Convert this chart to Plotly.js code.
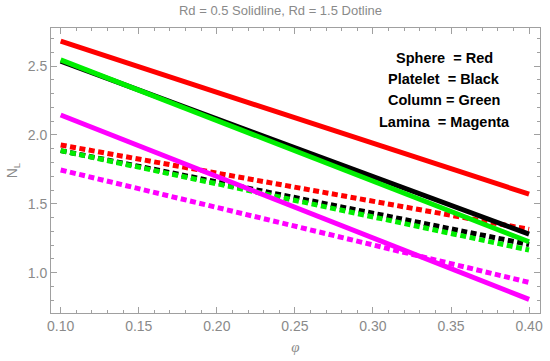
<!DOCTYPE html>
<html><head><meta charset="utf-8">
<script src="https://cdn.plot.ly/plotly-3.0.1.min.js"></script>
<style>body{margin:0;padding:0;background:#fff}#chart{width:550px;height:361px}</style>
</head><body><div id="chart"></div>
<script>
// Data (phi vs N_L)
const phi = [0.10, 0.40];
const sphereSolid   = [2.68, 1.57];
const plateletSolid = [2.535, 1.28];
const columnSolid   = [2.545, 1.225];
const laminaSolid   = [2.145, 0.807];
const sphereDot     = [1.927, 1.315];
const plateletDot   = [1.886, 1.205];
const columnDot     = [1.886, 1.165];
const laminaDot     = [1.746, 0.93];

const legendLines = ["Sphere  = Red", "Platelet  = Black", "Column = Green", "Lamina  = Magenta"];

const dotDash = "6px,3.5px";
function tr(y, color, dotted){
  return {x: phi, y: y, mode: 'lines', type: 'scatter', showlegend: false, hoverinfo: 'skip',
    line: {color: color, width: 5, dash: dotted ? dotDash : 'solid'}};
}
const data = [
  tr(sphereDot, '#ff0000', true),
  tr(plateletDot, '#000000', true),
  tr(columnDot, '#00ee00', true),
  tr(laminaDot, '#ff00ff', true),
  tr(sphereSolid, '#ff0000', false),
  tr(plateletSolid, '#000000', false),
  tr(columnSolid, '#00ee00', false),
  tr(laminaSolid, '#ff00ff', false)
];

const gray = '#8a8a8a';
const axisCommon = {
  showgrid: false, zeroline: false, showline: true, linecolor: '#a0a0a0', linewidth: 1,
  mirror: 'allticks', ticks: 'inside', ticklen: 6, tickcolor: '#a0a0a0', tickwidth: 1,
  tickfont: {family: 'Liberation Sans, Arial, sans-serif', size: 14, color: gray}
};
const annotations = legendLines.map((t, i) => ({
  text: '<b>' + t + '</b>', xref: 'paper', yref: 'paper',
  x: (444 - 51) / 489, y: 1 - ([58, 79, 100, 121.5][i] - 28) / 285,
  xanchor: 'center', yanchor: 'middle', showarrow: false,
  font: {family: 'Liberation Sans, Arial, sans-serif', size: 14.5, color: '#000'}
}));

const layout = {
  width: 550, height: 361,
  margin: {l: 51, r: 10, t: 28, b: 48},
  paper_bgcolor: '#fff', plot_bgcolor: '#fff',
  title: {text: 'Rd = 0.5 Solidline, Rd = 1.5 Dotline', x: 0.51, xanchor: 'center', y: 0.97, yanchor: 'middle',
    font: {family: 'Liberation Sans, Arial, sans-serif', size: 13, color: gray}},
  xaxis: Object.assign({}, axisCommon, {
    range: [0.0938, 0.407], tickvals: [0.10, 0.15, 0.20, 0.25, 0.30, 0.35, 0.40],
    ticktext: ['0.10', '0.15', '0.20', '0.25', '0.30', '0.35', '0.40'],
    minor: {dtick: 0.01, tick0: 0.1, ticks: 'inside', ticklen: 3, tickcolor: '#a0a0a0', showgrid: false},
    title: {text: '<i>φ</i>', standoff: 8, font: {family: 'Liberation Serif, serif', size: 15, color: gray}}
  }),
  yaxis: Object.assign({}, axisCommon, {
    range: [0.708, 2.776], tickvals: [1.0, 1.5, 2.0, 2.5], ticktext: ['1.0', '1.5', '2.0', '2.5'],
    minor: {dtick: 0.1, tick0: 0, ticks: 'inside', ticklen: 3, tickcolor: '#a0a0a0', showgrid: false},
    title: {text: 'N<sub>L</sub>', standoff: 6, font: {family: 'Liberation Sans, Arial, sans-serif', size: 14, color: gray}}
  }),
  annotations: annotations
};
Plotly.newPlot('chart', data, layout, {staticPlot: true, displayModeBar: false});
</script></body></html>
